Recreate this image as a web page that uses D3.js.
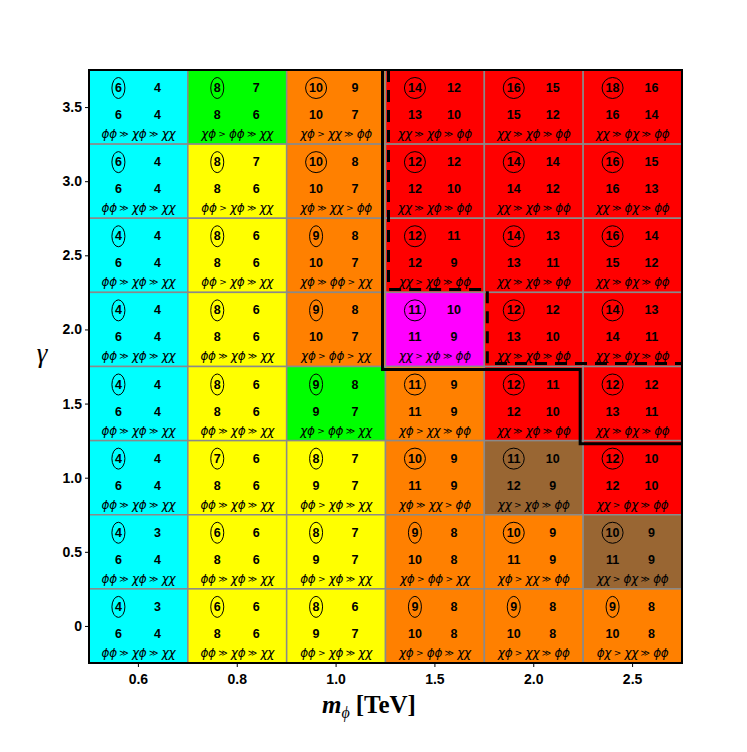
<!DOCTYPE html>
<html>
<head>
<meta charset="utf-8">
<script src="https://cdn.jsdelivr.net/npm/d3@7"></script>
<style>
  body { margin: 0; background: #fff; }
</style>
</head>
<body>
<div id="chart"></div>
<script>
// columns (m_phi in TeV) and rows (gamma), rows listed top to bottom
var mPhi = ["0.6", "0.8", "1.0", "1.5", "2.0", "2.5"];
var gammas = [3.5, 3.0, 2.5, 2.0, 1.5, 1.0, 0.5, 0];
var gammaTicks = [0, 0.5, 1.0, 1.5, 2.0, 2.5, 3.0, 3.5];

// circled number (top left) of each cell
var circled = [
  [6, 8, 10, 14, 16, 18],
  [6, 8, 10, 12, 14, 16],
  [4, 8, 9, 12, 14, 16],
  [4, 8, 9, 11, 12, 14],
  [4, 8, 9, 11, 12, 12],
  [4, 7, 8, 10, 11, 12],
  [4, 6, 8, 9, 10, 10],
  [4, 6, 8, 9, 9, 9]
];
var topRight = [
  [4, 7, 9, 12, 15, 16],
  [4, 7, 8, 12, 14, 15],
  [4, 6, 8, 11, 13, 14],
  [4, 6, 8, 10, 12, 13],
  [4, 6, 8, 9, 11, 12],
  [4, 6, 7, 9, 10, 10],
  [3, 6, 7, 8, 9, 9],
  [3, 6, 6, 8, 8, 8]
];
var lowLeft = [
  [6, 8, 10, 13, 15, 16],
  [6, 8, 10, 12, 14, 16],
  [6, 8, 10, 12, 13, 15],
  [6, 8, 10, 11, 13, 14],
  [6, 8, 9, 11, 12, 13],
  [6, 8, 9, 11, 12, 12],
  [6, 8, 9, 10, 11, 11],
  [6, 8, 9, 10, 10, 10]
];
var lowRight = [
  [4, 6, 7, 10, 12, 14],
  [4, 6, 7, 10, 12, 13],
  [4, 6, 7, 9, 11, 12],
  [4, 6, 7, 9, 10, 11],
  [4, 6, 7, 9, 10, 11],
  [4, 6, 7, 9, 9, 10],
  [4, 6, 7, 8, 9, 9],
  [4, 6, 7, 8, 8, 8]
];
var relations = [
  ["ϕϕ ≫ χϕ ≫ χχ", "χϕ > ϕϕ ≫ χχ", "χϕ > χχ ≫ ϕϕ", "χχ ≫ χϕ ≫ ϕϕ", "χχ ≫ χϕ ≫ ϕϕ", "χχ ≫ ϕχ ≫ ϕϕ"],
  ["ϕϕ ≫ χϕ ≫ χχ", "ϕϕ > χϕ ≫ χχ", "χϕ ≫ χχ > ϕϕ", "χχ ≫ χϕ ≫ ϕϕ", "χχ ≫ χϕ ≫ ϕϕ", "χχ ≫ ϕχ ≫ ϕϕ"],
  ["ϕϕ ≫ χϕ ≫ χχ", "ϕϕ > χϕ ≫ χχ", "χϕ ≫ ϕϕ > χχ", "χχ > χϕ ≫ ϕϕ", "χχ ≫ χϕ ≫ ϕϕ", "χχ ≫ ϕχ ≫ ϕϕ"],
  ["ϕϕ ≫ χϕ ≫ χχ", "ϕϕ ≫ χϕ ≫ χχ", "χϕ > ϕϕ > χχ", "χχ > χϕ ≫ ϕϕ", "χχ ≫ χϕ ≫ ϕϕ", "χχ ≫ ϕχ ≫ ϕϕ"],
  ["ϕϕ ≫ χϕ ≫ χχ", "ϕϕ ≫ χϕ ≫ χχ", "χϕ > ϕϕ ≫ χχ", "χϕ > χχ ≫ ϕϕ", "χχ ≫ χϕ ≫ ϕϕ", "χχ ≫ ϕχ ≫ ϕϕ"],
  ["ϕϕ ≫ χϕ ≫ χχ", "ϕϕ ≫ χϕ ≫ χχ", "ϕϕ > χϕ ≫ χχ", "χϕ ≫ χχ > ϕϕ", "χχ > χϕ ≫ ϕϕ", "χχ > ϕχ ≫ ϕϕ"],
  ["ϕϕ ≫ χϕ ≫ χχ", "ϕϕ ≫ χϕ ≫ χχ", "ϕϕ > χϕ ≫ χχ", "χϕ > ϕϕ > χχ", "χϕ > χχ ≫ ϕϕ", "χχ > ϕχ ≫ ϕϕ"],
  ["ϕϕ ≫ χϕ ≫ χχ", "ϕϕ ≫ χϕ ≫ χχ", "ϕϕ > χϕ ≫ χχ", "χϕ > ϕϕ ≫ χχ", "χϕ > χχ ≫ ϕϕ", "ϕχ > χχ ≫ ϕϕ"]
];
// region class of each cell
var regions = [
  ["c", "g", "o", "r", "r", "r"],
  ["c", "y", "o", "r", "r", "r"],
  ["c", "y", "o", "r", "r", "r"],
  ["c", "y", "o", "m", "r", "r"],
  ["c", "y", "g", "o", "r", "r"],
  ["c", "y", "y", "o", "b", "r"],
  ["c", "y", "y", "o", "o", "b"],
  ["c", "y", "y", "o", "o", "o"]
];
var regionColor = {c: "#00ffff", g: "#00ff00", y: "#ffff00", o: "#ff8000",
                   r: "#ff0000", m: "#ff00ff", b: "#996633"};

// boundaries: [column edge index, gamma]
var solidBoundary = [[3, 3.75], [3, 1.75], [5, 1.75], [5, 1.25], [6, 1.25]];
var dashedBoundary = [[3, 3.75], [3, 2.25], [4, 2.25], [4, 1.75], [6, 1.75]];

var svgWidth = 747, svgHeight = 752;
var margin = {top: 70, right: 65, bottom: 89, left: 89};

var svg = d3.select("#chart").append("svg")
  .attr("width", svgWidth)
  .attr("height", svgHeight);

var x = d3.scaleBand()
  .domain(mPhi)
  .range([margin.left, svgWidth - margin.right]);

var y = d3.scaleLinear()
  .domain([-0.25, 3.75])
  .range([svgHeight - margin.bottom, margin.top]);

var bw = x.bandwidth();
function xEdge(i) { return x.range()[0] + i * x.step(); }

// flatten cells
var cells = [];
gammas.forEach(function(g, r) {
  mPhi.forEach(function(m, c) {
    cells.push({m: m, g: g, r: r, c: c});
  });
});

var cellG = svg.append("g").selectAll("g.cell")
  .data(cells)
  .enter().append("g")
  .attr("class", "cell")
  .attr("transform", d => `translate(${x(d.m)}, ${y(d.g + 0.25)})`);

var rowH = y(0) - y(0.5);

cellG.append("rect")
  .attr("width", bw)
  .attr("height", rowH)
  .attr("fill", d => regionColor[regions[d.r][d.c]])
  .attr("stroke", "#8a8a8a")
  .attr("stroke-width", 1.5);

var numFont = "'Liberation Sans', Arial, sans-serif";

cellG.append("ellipse")
  .attr("cx", bw / 2 - 20)
  .attr("cy", 18)
  .attr("rx", d => circled[d.r][d.c] >= 10 ? 10.5 : 6.5)
  .attr("ry", 10.5)
  .attr("fill", "none")
  .attr("stroke", "#000")
  .attr("stroke-width", 1);

function addNum(dx, dy, arr) {
  cellG.append("text")
    .attr("x", bw / 2 + dx)
    .attr("y", dy)
    .attr("text-anchor", "middle")
    .attr("dominant-baseline", "central")
    .attr("font-family", numFont)
    .attr("font-weight", "bold")
    .attr("font-size", "12.5px")
    .text(d => arr[d.r][d.c]);
}
addNum(-20, 18, circled);
addNum(19, 18, topRight);
addNum(-20, 45, lowLeft);
addNum(19, 45, lowRight);

// ordering text, with the relation signs set smaller
var rel = cellG.append("text")
  .attr("x", bw / 2)
  .attr("y", 64)
  .attr("text-anchor", "middle")
  .attr("dominant-baseline", "central")
  .attr("font-family", "'DejaVu Sans', sans-serif")
  .attr("font-style", "italic")
  .attr("font-size", "12px")
  .attr("letter-spacing", "-0.3px");

rel.each(function(d) {
  var parts = relations[d.r][d.c].split(" ");
  var t = d3.select(this);
  parts.forEach(function(p, i) {
    var sign = (p === "≫" || p === ">");
    t.append("tspan")
      .attr("font-size", sign ? "9px" : null)
      .attr("font-style", sign ? "normal" : null)
      .text((i > 0 ? " " : "") + p);
  });
});

// region boundaries (shifted a little off the grid lines, ends kept on the frame)
var line = d3.line();
var x0 = x.range()[0], x1 = x.range()[1];
var yTop = y(3.75);

function shifted(pts, dx, dy) {
  return pts.map(function(p, i) {
    var px = xEdge(p[0]) + dx;
    var py = y(p[1]) + dy;
    if (i === 0) py = yTop;
    if (i === pts.length - 1) px = x1;
    return [px, py];
  });
}

svg.append("path")
  .attr("d", line(shifted(solidBoundary, -3, 3)))
  .attr("fill", "none")
  .attr("stroke", "#000")
  .attr("stroke-width", 3);

svg.append("path")
  .attr("d", line(shifted(dashedBoundary, 3, -3)))
  .attr("fill", "none")
  .attr("stroke", "#000")
  .attr("stroke-width", 3)
  .attr("stroke-dasharray", "12,8");

// frame
svg.append("rect")
  .attr("x", x0)
  .attr("y", yTop)
  .attr("width", x1 - x0)
  .attr("height", y(-0.25) - yTop)
  .attr("fill", "none")
  .attr("stroke", "#000")
  .attr("stroke-width", 2);

// axes
var bottomAxis = d3.axisBottom(x).tickSize(3).tickPadding(7);
var leftAxis = d3.axisLeft(y).tickValues(gammaTicks)
  .tickFormat(d => d === 0 ? "0" : d3.format(".1f")(d))
  .tickSize(3).tickPadding(3);

var xAxis = svg.append("g")
  .attr("transform", `translate(0, ${y(-0.25) + 1})`)
  .call(bottomAxis);
var yAxis = svg.append("g")
  .attr("transform", `translate(${x0 - 1}, 0)`)
  .call(leftAxis);

[xAxis, yAxis].forEach(function(a) {
  a.select(".domain").remove();
  a.selectAll("text")
    .attr("font-family", numFont)
    .attr("font-weight", "bold")
    .attr("font-size", "14px")
    .attr("fill", "#000");
});

// axis titles
svg.append("text")
  .attr("x", 42)
  .attr("y", 362)
  .attr("text-anchor", "middle")
  .attr("font-family", "'Liberation Serif', 'Times New Roman', serif")
  .attr("font-style", "italic")
  .attr("font-size", "27px")
  .text("γ");

var xt = svg.append("text")
  .attr("x", 369)
  .attr("y", 713)
  .attr("text-anchor", "middle")
  .attr("font-family", "'Liberation Serif', 'Times New Roman', serif")
  .attr("font-weight", "bold")
  .attr("font-size", "25px");
xt.append("tspan").attr("font-style", "italic").text("m");
xt.append("tspan").attr("font-style", "italic").attr("font-weight", "normal")
  .attr("font-size", "16px").attr("dy", 5).text("ϕ");
xt.append("tspan").attr("dy", -5).attr("dx", 6).text("[TeV]");
</script>
</body>
</html>
